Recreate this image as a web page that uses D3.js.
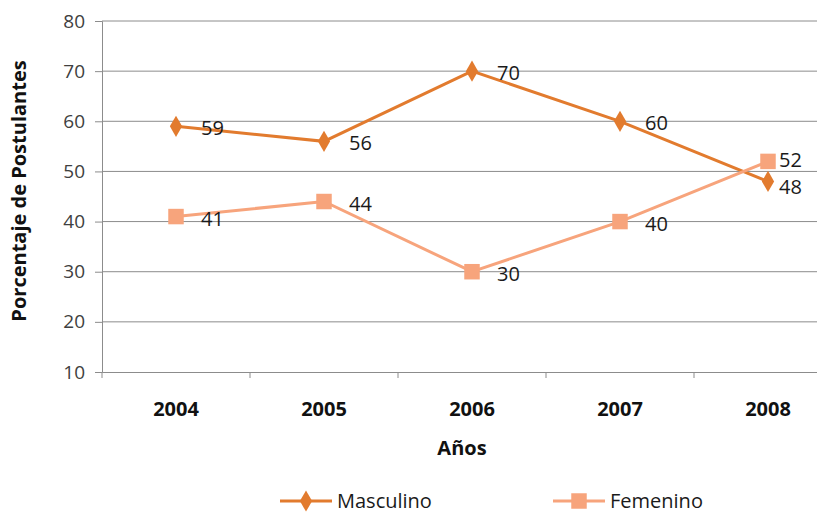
<!DOCTYPE html>
<html>
<head>
<meta charset="utf-8">
<script src="https://cdn.jsdelivr.net/npm/d3@7"></script>
<style>
body{margin:0;background:#fff;}
svg{display:block;font-family:"Open Sans","Noto Sans",sans-serif;}
</style>
</head>
<body>
<svg id="chart" width="817" height="513"></svg>
<script>
var years = ["2004", "2005", "2006", "2007", "2008"];
var masculino = [59, 56, 70, 60, 48];
var femenino = [41, 44, 30, 40, 52];
var yTicks = [10, 20, 30, 40, 50, 60, 70, 80];

var series = [
	{name: "Masculino", values: masculino, color: "#E27B2E", symbol: d3.symbolDiamond, size: 130},
	{name: "Femenino", values: femenino, color: "#F7A47C", symbol: d3.symbolSquare, size: 240}
];

var svg = d3.select("#chart");
var plotLeft = 102, plotTop = 21, plotBottom = 372;

var x = d3.scaleBand().domain(years).range([plotLeft, plotLeft + 148 * years.length]);
var y = d3.scaleLinear().domain([10, 80]).range([plotBottom, plotTop]);

// gridlines
svg.append("g").selectAll("line")
	.data(yTicks.slice(1))
	.enter().append("line")
	.attr("x1", plotLeft).attr("x2", 817)
	.attr("y1", function(d){ return y(d); })
	.attr("y2", function(d){ return y(d); })
	.attr("stroke", "#8c8c8c").attr("stroke-width", 1);

// y axis
var yAxis = svg.append("g")
	.attr("transform", "translate(" + plotLeft + ",0)")
	.call(d3.axisLeft(y).tickValues(yTicks).tickSize(7).tickPadding(10));
yAxis.select(".domain").attr("stroke", "#8c8c8c");
yAxis.selectAll(".tick line").attr("stroke", "#8c8c8c");
yAxis.selectAll("text").attr("font-size", "19px").attr("fill", "#404040")
	.attr("font-family", "Open Sans, sans-serif");

// x axis
var xAxis = svg.append("g")
	.attr("transform", "translate(0," + plotBottom + ")")
	.call(d3.axisBottom(x).tickSize(0).tickPadding(30));
xAxis.select(".domain").attr("stroke", "#8c8c8c");
xAxis.selectAll("text").attr("font-size", "20px").attr("font-weight", "bold")
	.attr("fill", "#111").attr("font-family", "Open Sans, sans-serif");
svg.append("g").selectAll("line")
	.data(years)
	.enter().append("line")
	.attr("x1", function(d){ return x(d); })
	.attr("x2", function(d){ return x(d); })
	.attr("y1", plotBottom).attr("y2", plotBottom + 6)
	.attr("stroke", "#8c8c8c");

// titles
svg.append("text")
	.attr("transform", "translate(26,191) rotate(-90)")
	.attr("text-anchor", "middle")
	.attr("font-size", "20px").attr("font-weight", "bold").attr("fill", "#111")
	.text("Porcentaje de Postulantes");
svg.append("text")
	.attr("x", 462).attr("y", 455)
	.attr("text-anchor", "middle")
	.attr("font-size", "20px").attr("font-weight", "bold").attr("fill", "#111")
	.text("Años");

var line = d3.line()
	.x(function(d, i){ return x(years[i]) + x.bandwidth() / 2; })
	.y(function(d){ return y(d); });

series.forEach(function(s){
	var g = svg.append("g");
	g.append("path")
		.attr("d", line(s.values))
		.attr("fill", "none")
		.attr("stroke", s.color)
		.attr("stroke-width", 3);
	g.selectAll(".pt")
		.data(s.values)
		.enter().append("path")
		.attr("d", d3.symbol().type(s.symbol).size(s.size))
		.attr("transform", function(d, i){
			return "translate(" + (x(years[i]) + x.bandwidth() / 2) + "," + y(d) + ")";
		})
		.attr("fill", s.color);
});

// data labels; the last pair sits close together so nudge apart
var last = years.length - 1;
series.forEach(function(s, si){
	var other = series[1 - si].values[last];
	svg.append("g").selectAll("text")
		.data(s.values)
		.enter().append("text")
		.attr("x", function(d, i){
			var dx = i === last ? 11 : 25;
			return x(years[i]) + x.bandwidth() / 2 + dx;
		})
		.attr("y", function(d, i){
			var dy = 9;
			if(i === last) dy = d < other ? 13 : 6;
			return y(d) + dy;
		})
		.attr("font-size", "20px").attr("fill", "#1a1a1a")
		.text(function(d){ return d; });
});

// legend
var legendX = [280, 553];
series.forEach(function(s, i){
	var lg = svg.append("g").attr("transform", "translate(" + legendX[i] + ",501)");
	lg.append("line").attr("x1", 0).attr("x2", 52)
		.attr("stroke", s.color).attr("stroke-width", 3);
	lg.append("path")
		.attr("d", d3.symbol().type(s.symbol).size(s.size))
		.attr("transform", "translate(26,0)")
		.attr("fill", s.color);
	lg.append("text").attr("x", 57).attr("y", 7)
		.attr("font-size", "20px").attr("fill", "#1a1a1a")
		.text(s.name);
});
</script>
</body>
</html>
